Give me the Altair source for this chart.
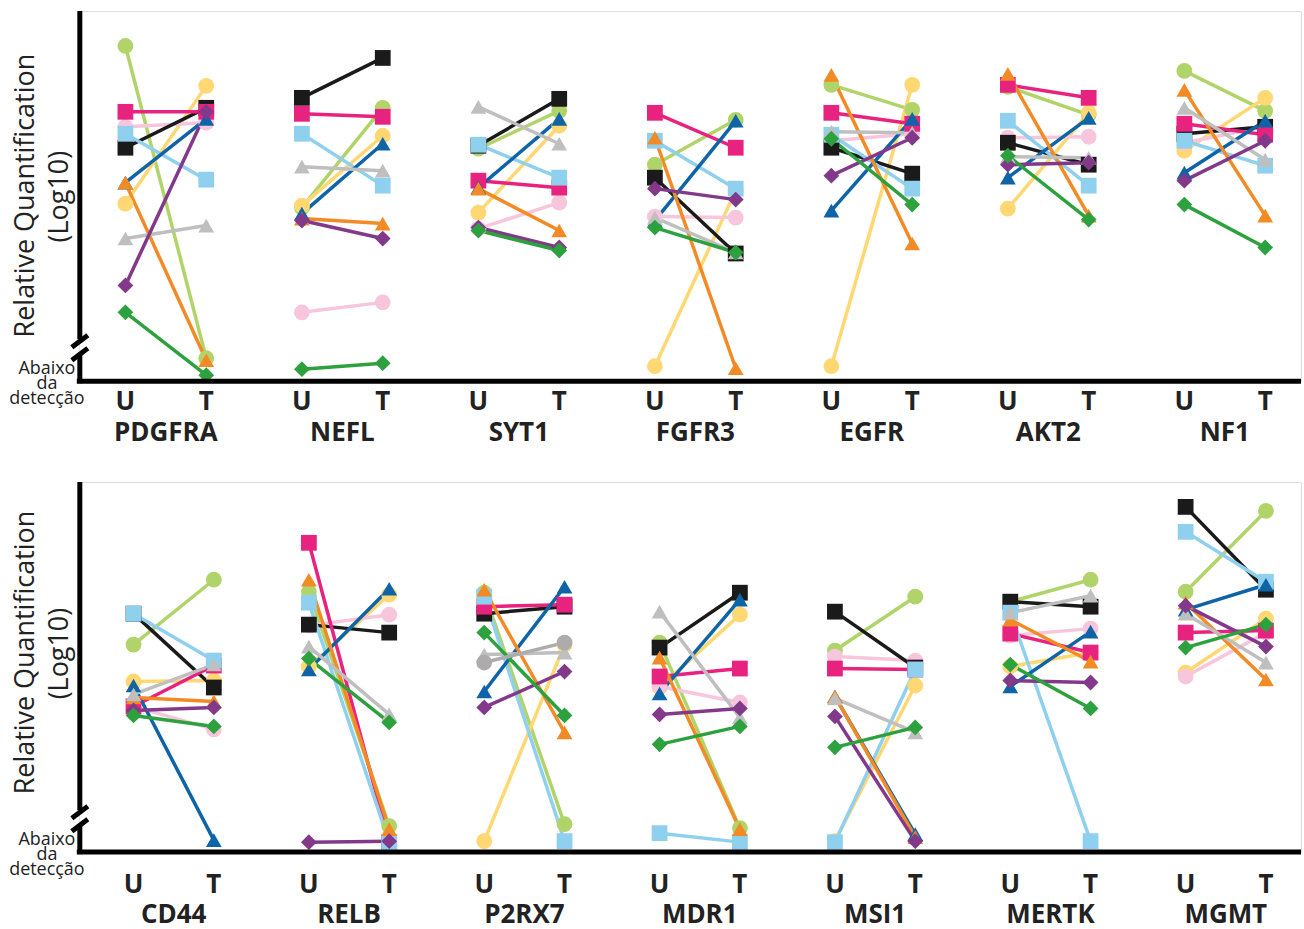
import altair as alt
import pandas as pd

# ---------------- data ----------------
patients = ["lgreen", "yellow", "pink", "black", "magenta", "lblue",
            "dblue", "orange", "gray", "purple", "green", "gray2"]

genes_top = ["PDGFRA", "NEFL", "SYT1", "FGFR3", "EGFR", "AKT2", "NF1"]
genes_bottom = ["CD44", "RELB", "P2RX7", "MDR1", "MSI1", "MERTK", "MGMT"]

# values (relative quantification, arbitrary log units); order = patients
PDGFRA_U = [336, 178, 255, 234, 270, 248, 199, 199, 143, 96, 69, None]
PDGFRA_T = [23, 296, 259, 274, 270, 202, 263, 21, 156, 270, 6, None]
NEFL_U = [174, 176, 69, 284, 268, 248, 168, 163, 215, 161, 12, None]
NEFL_T = [274, 246, 79, 324, 265, 196, 238, 158, 211, 143, 18, None]
SYT1_U = [233, 169, 153, 236, 201, 237, 194, 193, 275, 154, 151, None]
SYT1_T = [271, 256, 179, 283, 194, 204, 263, 151, 238, 134, 131, None]
FGFR3_U = [217, 15, 165, 204, 269, 241, 161, 244, 164, 193, 154, None]
FGFR3_T = [262, 191, 164, 128, 234, 193, 261, 13, 129, 182, 129, None]
EGFR_U = [297, 15, 241, 234, 269, 247, 171, 307, 250, 206, 243, None]
EGFR_T = [272, 297, 248, 208, 258, 193, 263, 138, 249, 244, 177, None]
AKT2_U = [295, 173, 244, 239, 297, 261, 204, 308, 225, 217, 226, None]
AKT2_T = [267, 269, 245, 217, 284, 196, 264, 166, 224, 219, 162, None]
NF1_U = [311, 231, 239, 248, 258, 241, 209, 292, 274, 201, 177, None]
NF1_T = [271, 284, 255, 255, 247, 216, 261, 166, 222, 241, 134, None]

CD44_U = [208, 171, 146, 239, 146, 239, 167, 155, 158, 142, 137, None]
CD44_T = [273, 172, 123, 165, 187, 192, 12, 151, 188, 145, 126, None]
RELB_U = [261, 186, 227, 228, 310, 250, 183, 273, 206, 10, 194, None]
RELB_T = [26, 258, 238, 220, 10, 10, 264, 23, 138, 11, 130, None]
P2RX7_U = [260, 11, None, 239, 246, 256, 161, 263, 198, 145, 220, 190]
P2RX7_T = [28, 208, None, 246, 248, 11, 266, 120, 200, 181, 137, 210]
MDR1_U = [210, 165, 166, 205, 176, 19, 159, 195, 241, 138, 108, None]
MDR1_T = [24, 238, 150, 260, 184, 10, 253, 23, 135, 144, 126, None]
MSI1_U = [202, 11, 196, 241, 184, 10, 156, 156, 154, 136, 105, None]
MSI1_T = [256, 167, 192, 185, 183, 183, 18, 15, 120, 11, 125, None]
MERTK_U = [251, 186, 217, 251, 219, 240, 166, 233, 240, 172, 188, None]
MERTK_T = [273, 200, 224, 246, 200, 11, 221, 191, 257, 170, 144, None]
MGMT_U = [261, 180, 176, 346, 220, 321, 243, 250, 239, 247, 205, None]
MGMT_T = [342, 234, 220, 263, 222, 271, 268, 173, 190, 206, 228, None]

gene_values = {
    "PDGFRA": (PDGFRA_U, PDGFRA_T), "NEFL": (NEFL_U, NEFL_T),
    "SYT1": (SYT1_U, SYT1_T), "FGFR3": (FGFR3_U, FGFR3_T),
    "EGFR": (EGFR_U, EGFR_T), "AKT2": (AKT2_U, AKT2_T), "NF1": (NF1_U, NF1_T),
    "CD44": (CD44_U, CD44_T), "RELB": (RELB_U, RELB_T),
    "P2RX7": (P2RX7_U, P2RX7_T), "MDR1": (MDR1_U, MDR1_T),
    "MSI1": (MSI1_U, MSI1_T), "MERTK": (MERTK_U, MERTK_T), "MGMT": (MGMT_U, MGMT_T),
}

# ---------------- styles ----------------
colors = ["#b1d46a", "#ffd773", "#f8c6dc", "#1a1a1a", "#e8227f", "#8ed0ee",
          "#0e64a6", "#f28b25", "#bfbfbf", "#82398a", "#2ea13f", "#adabab"]
shapes = ["circle", "circle", "circle", "square", "square", "square",
          "triangle-up", "triangle-up", "triangle-up", "diamond", "diamond", "circle"]
sizes = [250, 250, 250, 200, 200, 200, 240, 240, 240, 300, 300, 250]

FONT = "Open Sans"
TXT = "#222222"
W = 1225
H = 371
OFF = 0.229


def build(genes):
    recs = []
    for gi, g in enumerate(genes):
        U, T = gene_values[g]
        for p, u, t in zip(patients, U, T):
            if u is None:
                continue
            recs.append(dict(gene=g, patient=p, cond="U", x=gi - OFF, v=u))
            recs.append(dict(gene=g, patient=p, cond="T", x=gi + OFF, v=t))
    return pd.DataFrame(recs)


one = pd.DataFrame({"k": [0]})


def seg(x, y, x2, y2, sw=5):
    return alt.Chart(one).mark_rule(color="black", strokeWidth=sw).encode(
        x=alt.value(x), y=alt.value(y), x2=alt.value(x2), y2=alt.value(y2))


def row(genes, xdom, ut_y, name_y, t1_y, t2_y):
    df = build(genes)
    xs = alt.Scale(domain=xdom, nice=False, zero=False)
    ys = alt.Scale(domain=[0, H], nice=False, zero=False)
    X = alt.X("x:Q", scale=xs, axis=None)
    Y = alt.Y("v:Q", scale=ys, axis=None)
    col = alt.Color("patient:N", scale=alt.Scale(domain=patients, range=colors), legend=None)
    shp = alt.Shape("patient:N", scale=alt.Scale(domain=patients, range=shapes), legend=None)
    siz = alt.Size("patient:N", scale=alt.Scale(domain=patients, range=sizes), legend=None)

    lines = alt.Chart(df).mark_line(strokeWidth=3.5).encode(X, Y, col, detail="gene:N")
    pts = alt.Chart(df).mark_point(filled=True, opacity=1, strokeWidth=0).encode(X, Y, col, shp, siz)

    ut_df = pd.DataFrame(
        [dict(x=gi - OFF, label="U") for gi in range(len(genes))]
        + [dict(x=gi + OFF, label="T") for gi in range(len(genes))])
    ut = alt.Chart(ut_df).mark_text(font=FONT, fontSize=26, fontWeight="bold", color=TXT,
                                    baseline="middle").encode(
        x=alt.X("x:Q", scale=xs, axis=None), y=alt.value(ut_y), text="label:N")
    nm_df = pd.DataFrame([dict(x=gi, label=g) for gi, g in enumerate(genes)])
    names = alt.Chart(nm_df).mark_text(font=FONT, fontSize=26, fontWeight="bold", color=TXT,
                                       baseline="middle").encode(
        x=alt.X("x:Q", scale=xs, axis=None), y=alt.value(name_y), text="label:N")

    bd = alt.Chart(one).mark_text(font=FONT, fontSize=18, color=TXT, align="center",
                                  baseline="alphabetic", lineBreak="\n", lineHeight=15).encode(
        x=alt.value(-32), y=alt.value(H - 7), text=alt.value("Abaixo\nda\ndetecção"))
    t1 = alt.Chart(one).mark_text(font=FONT, fontSize=27, color=TXT, angle=270,
                                  align="center", baseline="alphabetic").encode(
        x=alt.value(-45), y=alt.value(t1_y), text=alt.value("Relative Quantification"))
    t2 = alt.Chart(one).mark_text(font=FONT, fontSize=27, color=TXT, angle=270,
                                  align="center", baseline="alphabetic").encode(
        x=alt.value(-11), y=alt.value(t2_y), text=alt.value("(Log10)"))

    axis = (seg(1, 0, 1, 329) + seg(-7, 337, 9, 325) + seg(-7, 350, 9, 338)
            + seg(1, 343, 1, H + 2) + seg(-2, H, W, H))

    return alt.layer(lines, pts, axis, ut, names, bd, t1, t2).properties(width=W, height=H)


top = row(genes_top, [-0.493, 6.432], H + 21, H + 52, 185, 186)
bottom = row(genes_bottom, [-0.541, 6.429], H + 33, H + 63, 171, 172)

chart = alt.vconcat(top, bottom, spacing=32).resolve_scale(
    x="independent", y="independent").properties(
    padding={"left": 8, "top": 7, "right": 0, "bottom": 0}
).configure_view(strokeWidth=0).configure(background="white")

chart.save("out.html", embed_options={"renderer": "svg", "actions": False})
